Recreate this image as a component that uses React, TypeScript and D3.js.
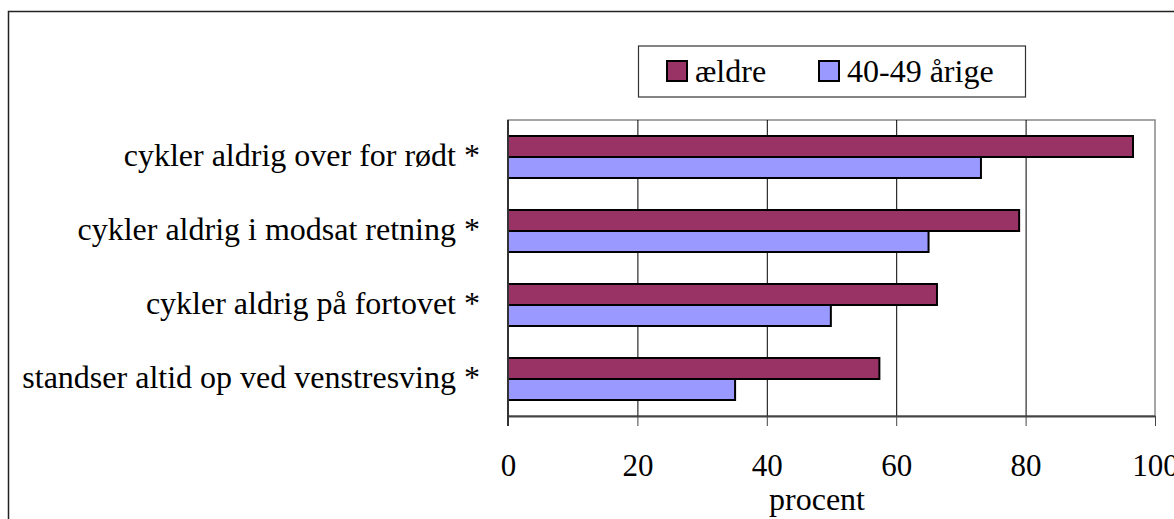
import * as d3 from "d3";
import { useEffect, useRef } from "react";

const categories = [
  "cykler aldrig over for rødt *",
  "cykler aldrig i modsat retning *",
  "cykler aldrig på fortovet *",
  "standser altid op ved venstresving *",
];
const seriesNames = ["ældre", "40-49 årige"];
const aeldre = [96.6, 79.0, 66.3, 57.4];
const aarige4049 = [73.1, 65.0, 49.9, 35.1];
const xTicks = [0, 20, 40, 60, 80, 100];
const colors = ["#993366", "#9999FF"];

const W = 1174;
const H = 519;
const FONT = "Liberation Serif, Times New Roman, serif";

const App: React.FC = () => {
  const ref = useRef<SVGSVGElement | null>(null);

  useEffect(() => {
    if (!ref.current) return;
    const svg = d3.select(ref.current);
    svg.selectAll("*").remove();

    const left = 508;
    const right = 1155;
    const top = 120;
    const bottom = 416;

    const x = d3.scaleLinear().domain([0, 100]).range([left, right]);
    const y = d3
      .scaleBand<string>()
      .domain(categories)
      .range([top, bottom])
      .paddingInner(32 / 74)
      .paddingOuter(16 / 74);
    const sub = d3.scaleBand<number>().domain([0, 1]).range([0, y.bandwidth()]);

    // outer frame
    svg
      .append("rect")
      .attr("x", 8.5)
      .attr("y", 11.5)
      .attr("width", W + 20)
      .attr("height", H + 20)
      .attr("fill", "white")
      .attr("stroke", "#222")
      .attr("stroke-width", 1.5);

    // plot area border (top / right gray)
    svg
      .append("rect")
      .attr("x", left)
      .attr("y", top)
      .attr("width", right - left)
      .attr("height", bottom - top)
      .attr("fill", "white")
      .attr("stroke", "#888")
      .attr("stroke-width", 1.5);

    // vertical grid lines
    svg
      .append("g")
      .selectAll("line")
      .data(xTicks.slice(1, -1))
      .join("line")
      .attr("x1", (d) => x(d) + 0.5)
      .attr("x2", (d) => x(d) + 0.5)
      .attr("y1", top)
      .attr("y2", bottom)
      .attr("stroke", "#000")
      .attr("stroke-width", 1);

    // bars
    const series = [aeldre, aarige4049];
    series.forEach((vals, si) => {
      svg
        .append("g")
        .selectAll("rect")
        .data(vals)
        .join("rect")
        .attr("x", x(0))
        .attr("y", (_, i) => (y(categories[i]) ?? 0) + (sub(si) ?? 0))
        .attr("width", (d) => x(d) - x(0))
        .attr("height", sub.bandwidth())
        .attr("fill", colors[si])
        .attr("stroke", "#000")
        .attr("stroke-width", 2);
    });

    // x axis
    const xAxis = svg
      .append("g")
      .attr("transform", `translate(0,${bottom})`)
      .call(d3.axisBottom(x).tickValues(xTicks).tickSize(10).tickPadding(28).tickSizeOuter(0));
    xAxis.select(".domain").attr("stroke", "#444").attr("stroke-width", 2);
    xAxis.selectAll(".tick line").attr("stroke", "#444");
    xAxis
      .selectAll(".tick text")
      .style("font-family", FONT)
      .style("font-size", "31px")
      .attr("fill", "#000");

    // y axis line
    svg
      .append("line")
      .attr("x1", left)
      .attr("x2", left)
      .attr("y1", top)
      .attr("y2", bottom + 10)
      .attr("stroke", "#333")
      .attr("stroke-width", 2);

    // category labels
    svg
      .append("g")
      .selectAll("text")
      .data(categories)
      .join("text")
      .attr("x", 480)
      .attr("y", (d) => (y(d) ?? 0) + y.bandwidth() / 2 + 9)
      .attr("text-anchor", "end")
      .style("font-family", FONT)
      .style("font-size", "32px")
      .attr("fill", "#000")
      .text((d) => d);

    // axis title
    svg
      .append("text")
      .attr("x", 817)
      .attr("y", 510)
      .attr("text-anchor", "middle")
      .style("font-family", FONT)
      .style("font-size", "32px")
      .text("procent");

    // legend
    const lg = svg.append("g");
    lg.append("rect")
      .attr("x", 638.5)
      .attr("y", 46)
      .attr("width", 387)
      .attr("height", 51)
      .attr("fill", "white")
      .attr("stroke", "#333")
      .attr("stroke-width", 1.2);
    const legendX = [667, 819];
    seriesNames.forEach((name, i) => {
      lg.append("rect")
        .attr("x", legendX[i])
        .attr("y", 61)
        .attr("width", 20)
        .attr("height", 20)
        .attr("fill", colors[i])
        .attr("stroke", "#000")
        .attr("stroke-width", 2);
      lg.append("text")
        .attr("x", legendX[i] + 28)
        .attr("y", 82)
        .style("font-family", FONT)
        .style("font-size", "32px")
        .text(name);
    });
  }, []);

  return (
    <svg
      ref={ref}
      width={W}
      height={H}
      style={{ position: "absolute", left: 0, top: 0, background: "white" }}
    />
  );
};

export default App;
